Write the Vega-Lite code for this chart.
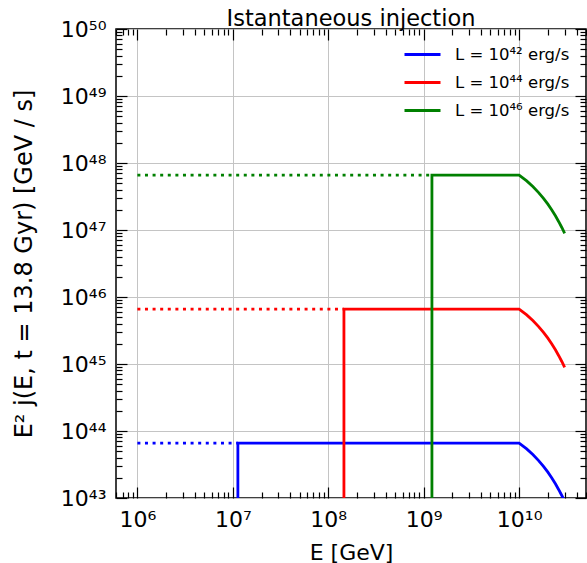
{
  "$schema": "https://vega.github.io/schema/vega-lite/v6.json",
  "autosize": {"type": "none"},
  "width": 470,
  "height": 469,
  "padding": {"left": 116, "top": 29, "right": 1, "bottom": 65},
  "background": "white",
  "config": {
    "font": "DejaVu Sans",
    "view": {"stroke": "black", "strokeWidth": 1.5}
  },
  "title": {"text": "Istantaneous injection", "fontSize": 22.5, "fontWeight": "normal", "font": "DejaVu Sans", "color": "black", "anchor": "middle", "baseline": "alphabetic", "offset": 0, "dy": 30},
  "datasets": {
    "dotted": [
      {"series": "L = 10⁴² erg/s", "E": 1e6, "v": 6.6e43, "i": 0},
      {"series": "L = 10⁴² erg/s", "E": 1.13e7, "v": 6.6e43, "i": 1},
      {"series": "L = 10⁴⁴ erg/s", "E": 1e6, "v": 6.6e45, "i": 0},
      {"series": "L = 10⁴⁴ erg/s", "E": 1.46e8, "v": 6.6e45, "i": 1},
      {"series": "L = 10⁴⁶ erg/s", "E": 1e6, "v": 6.6e47, "i": 0},
      {"series": "L = 10⁴⁶ erg/s", "E": 1.22e9, "v": 6.6e47, "i": 1}
    ],
    "solid": [
      {"series": "L = 10⁴² erg/s", "E": 1.13e7, "v": 1e40, "i": 0},
      {"series": "L = 10⁴² erg/s", "E": 1.13e7, "v": 6.6e43, "i": 1},
      {"series": "L = 10⁴² erg/s", "E": 1e10, "v": 6.6e43, "i": 2},
      {"series": "L = 10⁴² erg/s", "E": 1.2e10, "v": 5.40e43, "i": 3},
      {"series": "L = 10⁴² erg/s", "E": 1.4e10, "v": 4.42e43, "i": 4},
      {"series": "L = 10⁴² erg/s", "E": 1.6e10, "v": 3.62e43, "i": 5},
      {"series": "L = 10⁴² erg/s", "E": 1.8e10, "v": 2.97e43, "i": 6},
      {"series": "L = 10⁴² erg/s", "E": 2.0e10, "v": 2.43e43, "i": 7},
      {"series": "L = 10⁴² erg/s", "E": 2.2e10, "v": 1.99e43, "i": 8},
      {"series": "L = 10⁴² erg/s", "E": 2.4e10, "v": 1.63e43, "i": 9},
      {"series": "L = 10⁴² erg/s", "E": 2.6e10, "v": 1.33e43, "i": 10},
      {"series": "L = 10⁴² erg/s", "E": 2.8e10, "v": 1.09e43, "i": 11},
      {"series": "L = 10⁴² erg/s", "E": 3.0e10, "v": 0.893e43, "i": 12},
      {"series": "L = 10⁴⁴ erg/s", "E": 1.46e8, "v": 1e40, "i": 0},
      {"series": "L = 10⁴⁴ erg/s", "E": 1.46e8, "v": 6.6e45, "i": 1},
      {"series": "L = 10⁴⁴ erg/s", "E": 1e10, "v": 6.6e45, "i": 2},
      {"series": "L = 10⁴⁴ erg/s", "E": 1.2e10, "v": 5.40e45, "i": 3},
      {"series": "L = 10⁴⁴ erg/s", "E": 1.4e10, "v": 4.42e45, "i": 4},
      {"series": "L = 10⁴⁴ erg/s", "E": 1.6e10, "v": 3.62e45, "i": 5},
      {"series": "L = 10⁴⁴ erg/s", "E": 1.8e10, "v": 2.97e45, "i": 6},
      {"series": "L = 10⁴⁴ erg/s", "E": 2.0e10, "v": 2.43e45, "i": 7},
      {"series": "L = 10⁴⁴ erg/s", "E": 2.2e10, "v": 1.99e45, "i": 8},
      {"series": "L = 10⁴⁴ erg/s", "E": 2.4e10, "v": 1.63e45, "i": 9},
      {"series": "L = 10⁴⁴ erg/s", "E": 2.6e10, "v": 1.33e45, "i": 10},
      {"series": "L = 10⁴⁴ erg/s", "E": 2.8e10, "v": 1.09e45, "i": 11},
      {"series": "L = 10⁴⁴ erg/s", "E": 3.0e10, "v": 0.893e45, "i": 12},
      {"series": "L = 10⁴⁶ erg/s", "E": 1.22e9, "v": 1e40, "i": 0},
      {"series": "L = 10⁴⁶ erg/s", "E": 1.22e9, "v": 6.6e47, "i": 1},
      {"series": "L = 10⁴⁶ erg/s", "E": 1e10, "v": 6.6e47, "i": 2},
      {"series": "L = 10⁴⁶ erg/s", "E": 1.2e10, "v": 5.40e47, "i": 3},
      {"series": "L = 10⁴⁶ erg/s", "E": 1.4e10, "v": 4.42e47, "i": 4},
      {"series": "L = 10⁴⁶ erg/s", "E": 1.6e10, "v": 3.62e47, "i": 5},
      {"series": "L = 10⁴⁶ erg/s", "E": 1.8e10, "v": 2.97e47, "i": 6},
      {"series": "L = 10⁴⁶ erg/s", "E": 2.0e10, "v": 2.43e47, "i": 7},
      {"series": "L = 10⁴⁶ erg/s", "E": 2.2e10, "v": 1.99e47, "i": 8},
      {"series": "L = 10⁴⁶ erg/s", "E": 2.4e10, "v": 1.63e47, "i": 9},
      {"series": "L = 10⁴⁶ erg/s", "E": 2.6e10, "v": 1.33e47, "i": 10},
      {"series": "L = 10⁴⁶ erg/s", "E": 2.8e10, "v": 1.09e47, "i": 11},
      {"series": "L = 10⁴⁶ erg/s", "E": 3.0e10, "v": 0.893e47, "i": 12}
    ]
  },
  "layer": [
    {
      "data": {"name": "dotted"},
      "mark": {"type": "line", "strokeWidth": 2.8, "strokeDash": [3, 4.6], "clip": true},
      "encoding": {
        "x": {
          "field": "E", "type": "quantitative",
          "scale": {"type": "log", "domain": [597000, 50200000000], "nice": false, "zero": false},
          "axis": {
            "orient": "bottom",
            "title": "E [GeV]", "titleFontSize": 22, "titleFontWeight": "normal", "titleColor": "black", "titlePadding": 7,
            "values": [600000, 700000, 800000, 900000, 1000000, 2000000, 3000000, 4000000, 5000000, 6000000, 7000000, 8000000, 9000000, 10000000, 20000000, 30000000, 40000000, 50000000, 60000000, 70000000, 80000000, 90000000, 100000000, 200000000, 300000000, 400000000, 500000000, 600000000, 700000000, 800000000, 900000000, 1000000000, 2000000000, 3000000000, 4000000000, 5000000000, 6000000000, 7000000000, 8000000000, 9000000000, 10000000000, 20000000000, 30000000000, 40000000000, 50000000000],
            "labelExpr": "datum.value == 1e6 ? '10⁶' : datum.value == 1e7 ? '10⁷' : datum.value == 1e8 ? '10⁸' : datum.value == 1e9 ? '10⁹' : datum.value == 1e10 ? '10¹⁰' : ''",
            "labelFontSize": 22, "labelColor": "black", "labelPadding": 22, "labelFlush": false, "labelOverlap": false,
            "domain": false,
            "tickColor": "black", "tickWidth": 1.2,
            "tickSize": {"condition": {"test": "abs(log(datum.value)/LN10 - round(log(datum.value)/LN10)) < 0.000001", "value": -11}, "value": -6},
            "grid": true, "gridColor": "#c4c4c4", "gridWidth": 1,
            "gridOpacity": {"condition": {"test": "abs(log(datum.value)/LN10 - round(log(datum.value)/LN10)) < 0.000001", "value": 1}, "value": 0}
          }
        },
        "y": {
          "field": "v", "type": "quantitative",
          "scale": {"type": "log", "domain": [1e43, 1e50], "nice": false, "zero": false},
          "axis": {
            "orient": "left",
            "title": "E² j(E, t = 13.8 Gyr) [GeV / s]", "titleFontSize": 24, "titleFontWeight": "normal", "titleColor": "black", "titlePadding": 24,
            "values": [1e43, 2e43, 3e43, 4e43, 5e43, 6e43, 7e43, 8e43, 9e43, 1e44, 2e44, 3e44, 4e44, 5e44, 6e44, 7e44, 8e44, 9e44, 1e45, 2e45, 3e45, 4e45, 5e45, 6e45, 7e45, 8e45, 9e45, 1e46, 2e46, 3e46, 4e46, 5e46, 6e46, 7e46, 8e46, 9e46, 1e47, 2e47, 3e47, 4e47, 5e47, 6e47, 7e47, 8e47, 9e47, 1e48, 2e48, 3e48, 4e48, 5e48, 6e48, 7e48, 8e48, 9e48, 1e49, 2e49, 3e49, 4e49, 5e49, 6e49, 7e49, 8e49, 9e49, 1e50],
            "labelExpr": "datum.value == 1e43 ? '10⁴³' : datum.value == 1e44 ? '10⁴⁴' : datum.value == 1e45 ? '10⁴⁵' : datum.value == 1e46 ? '10⁴⁶' : datum.value == 1e47 ? '10⁴⁷' : datum.value == 1e48 ? '10⁴⁸' : datum.value == 1e49 ? '10⁴⁹' : datum.value == 1e50 ? '10⁵⁰' : ''",
            "labelFontSize": 22, "labelColor": "black", "labelPadding": 21, "labelFlush": false, "labelOverlap": false, "labelBaseline": "middle",
            "domain": false,
            "tickColor": "black", "tickWidth": 1.2,
            "tickSize": {"condition": {"test": "abs(log(datum.value)/LN10 - round(log(datum.value)/LN10)) < 0.000001", "value": -11}, "value": -6},
            "grid": true, "gridColor": "#c4c4c4", "gridWidth": 1,
            "gridOpacity": {"condition": {"test": "abs(log(datum.value)/LN10 - round(log(datum.value)/LN10)) < 0.000001", "value": 1}, "value": 0}
          }
        },
        "color": {
          "field": "series", "type": "nominal",
          "scale": {"domain": ["L = 10⁴² erg/s", "L = 10⁴⁴ erg/s", "L = 10⁴⁶ erg/s"], "range": ["#0000ff", "#ff0000", "#008000"]},
          "legend": {
            "orient": "none", "legendX": 287, "legendY": 6, "title": null,
            "symbolType": "stroke", "symbolSize": 1296, "symbolStrokeWidth": 2.8, "symbolDash": [],
            "labelFontSize": 16.5, "labelColor": "black", "labelOffset": 13, "rowPadding": -9,
            "labelLimit": 300
          }
        },
        "order": {"field": "i", "type": "quantitative"}
      }
    },
    {
      "data": {"name": "solid"},
      "mark": {"type": "line", "strokeWidth": 2.8, "clip": true},
      "encoding": {
        "x": {
          "field": "E", "type": "quantitative",
          "scale": {"type": "log", "domain": [597000, 50200000000], "nice": false, "zero": false},
          "axis": {
            "orient": "top", "title": null, "labels": false, "domain": false, "grid": false,
            "values": [600000, 700000, 800000, 900000, 1000000, 2000000, 3000000, 4000000, 5000000, 6000000, 7000000, 8000000, 9000000, 10000000, 20000000, 30000000, 40000000, 50000000, 60000000, 70000000, 80000000, 90000000, 100000000, 200000000, 300000000, 400000000, 500000000, 600000000, 700000000, 800000000, 900000000, 1000000000, 2000000000, 3000000000, 4000000000, 5000000000, 6000000000, 7000000000, 8000000000, 9000000000, 10000000000, 20000000000, 30000000000, 40000000000, 50000000000],
            "tickColor": "black", "tickWidth": 1.2,
            "tickSize": {"condition": {"test": "abs(log(datum.value)/LN10 - round(log(datum.value)/LN10)) < 0.000001", "value": -11}, "value": -6}
          }
        },
        "y": {
          "field": "v", "type": "quantitative",
          "scale": {"type": "log", "domain": [1e43, 1e50], "nice": false, "zero": false},
          "axis": {
            "orient": "right", "title": null, "labels": false, "domain": false, "grid": false,
            "values": [1e43, 2e43, 3e43, 4e43, 5e43, 6e43, 7e43, 8e43, 9e43, 1e44, 2e44, 3e44, 4e44, 5e44, 6e44, 7e44, 8e44, 9e44, 1e45, 2e45, 3e45, 4e45, 5e45, 6e45, 7e45, 8e45, 9e45, 1e46, 2e46, 3e46, 4e46, 5e46, 6e46, 7e46, 8e46, 9e46, 1e47, 2e47, 3e47, 4e47, 5e47, 6e47, 7e47, 8e47, 9e47, 1e48, 2e48, 3e48, 4e48, 5e48, 6e48, 7e48, 8e48, 9e48, 1e49, 2e49, 3e49, 4e49, 5e49, 6e49, 7e49, 8e49, 9e49, 1e50],
            "tickColor": "black", "tickWidth": 1.2,
            "tickSize": {"condition": {"test": "abs(log(datum.value)/LN10 - round(log(datum.value)/LN10)) < 0.000001", "value": -11}, "value": -6}
          }
        },
        "color": {
          "field": "series", "type": "nominal",
          "scale": {"domain": ["L = 10⁴² erg/s", "L = 10⁴⁴ erg/s", "L = 10⁴⁶ erg/s"], "range": ["#0000ff", "#ff0000", "#008000"]},
          "legend": {
            "orient": "none", "legendX": 287, "legendY": 6, "title": null,
            "symbolType": "stroke", "symbolSize": 1296, "symbolStrokeWidth": 2.8, "symbolDash": [],
            "labelFontSize": 16.5, "labelColor": "black", "labelOffset": 13, "rowPadding": -9,
            "labelLimit": 300
          }
        },
        "order": {"field": "i", "type": "quantitative"}
      }
    }
  ],
  "resolve": {"axis": {"x": "independent", "y": "independent"}}
}
